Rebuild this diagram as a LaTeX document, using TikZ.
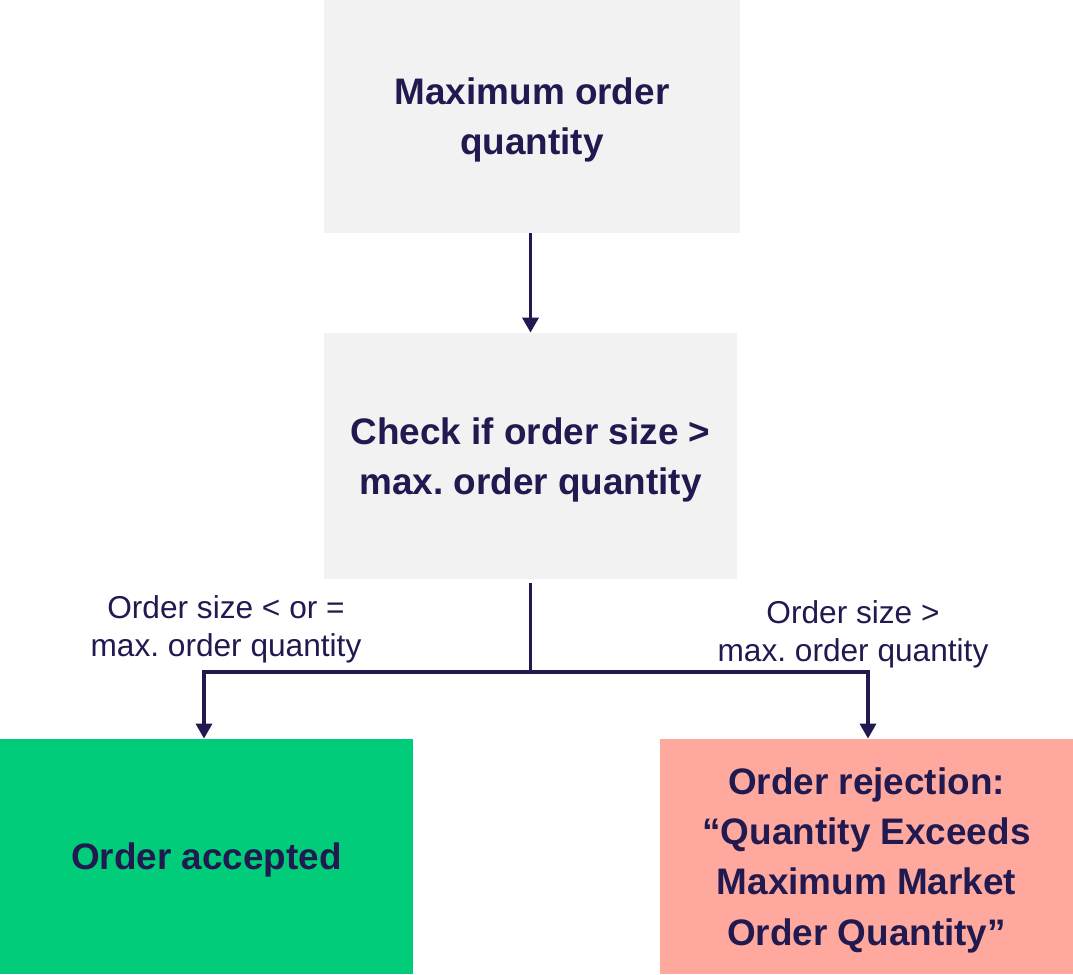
\documentclass[tikz,border=0pt]{standalone}
\usepackage{fontspec}
\setmainfont{Liberation Sans}
\usetikzlibrary{arrows.meta}
\definecolor{navy}{HTML}{201A50}
\definecolor{boxgray}{HTML}{F2F2F2}
\definecolor{okgreen}{HTML}{00CC7A}
\definecolor{rejectred}{HTML}{FFA99E}
\frenchspacing
\begin{document}
\begin{tikzpicture}[
    flowbox/.style={minimum width=8.26cm, minimum height=4.7cm, align=center, text=navy,
        font=\fontsize{21}{28.5}\selectfont\bfseries, inner sep=0pt, text depth=0pt},
    caselabel/.style={align=center, text=navy, font=\fontsize{18}{21.5}\selectfont},
    flowline/.style={draw=navy, line width=2pt},
    flowarrow/.style={flowline, -{Triangle[width=9pt,length=8.5pt]}}
    ]
        \useasboundingbox (0, 0) rectangle (21.46, -19.48);
        \node[flowbox, fill=boxgray, minimum width=8.32cm, minimum height=4.66cm] (maxqty) at (10.64, -2.33) {Maximum order\\quantity};
        \node[flowbox, fill=boxgray, minimum height=4.92cm] (check) at (10.61, -9.12) {Check if order size >\\max. order quantity};
        \node[flowbox, fill=okgreen] (accepted) at (4.13, -17.13) {Order accepted};
        \node[flowbox, fill=rejectred] (rejected) at (17.33, -17.13) {Order rejection:\\“Quantity Exceeds\\Maximum Market\\Order Quantity”};
        \coordinate (split) at (10.61, -13.44);
        \draw[flowarrow] (maxqty.south -| check.north) -- (check.north);
        \draw[flowline, shorten <=2pt] (check.south) -- (split);
        \draw[flowarrow] (split) -| ([xshift=-0.05cm]accepted.north);
        \draw[flowarrow] (split) -| ([xshift=0.03cm]rejected.north);
        \node[caselabel] (lesslabel) at (4.52, -12.58) {Order size < or =\\max. order quantity};
        \node[caselabel] (morelabel) at (17.06, -12.68) {Order size >\\max. order quantity};
    \end{tikzpicture}
\end{document}
